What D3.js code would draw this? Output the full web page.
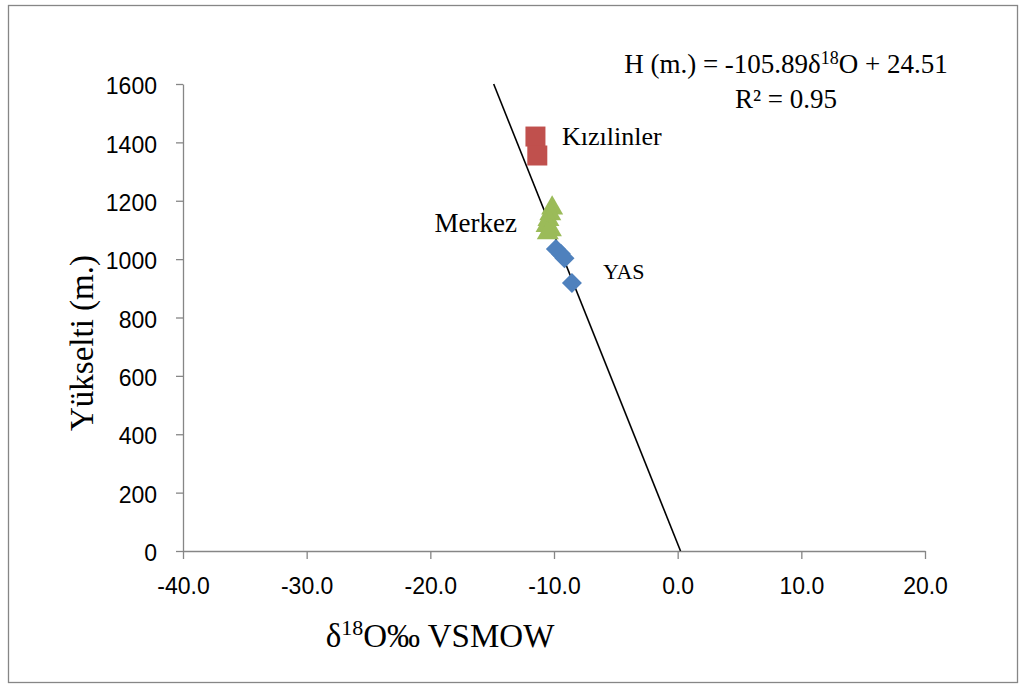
<!DOCTYPE html>
<html>
<head>
<meta charset="utf-8">
<script src="https://cdn.jsdelivr.net/npm/d3@7"></script>
<style>
  body { margin: 0; background: #fff; }
  .axis path, .axis line { stroke: #868686; stroke-width: 1.3px; }
  .axis text { font-family: "Liberation Sans", Arial, sans-serif; font-size: 23px; fill: #000; }
  .serif { font-family: "Liberation Serif", "Times New Roman", serif; fill: #000; }
</style>
</head>
<body>
<div id="chart"></div>
<script>
// values
const kizilinlerX = [-11.5, -11.35];
const kizilinlerY = [1420, 1355];
const merkezX = [-10.15, -10.3, -10.45, -10.6, -10.25, -10.5];
const merkezY = [1175, 1155, 1135, 1115, 1100, 1090];
const yasX = [-9.85, -9.45, -9.15, -8.55];
const yasY = [1035, 1018, 1003, 918];

const xTicks = [-40, -30, -20, -10, 0, 10, 20];
const yTicks = [0, 200, 400, 600, 800, 1000, 1200, 1400, 1600];

// trendline H = slope * d18O + intercept
const slope = -105.89, intercept = 24.51;

const W = 1025, H = 688;
const margin = {top: 84, right: 100, bottom: 137, left: 183};
const width = 925 - margin.left,
      height = 551 - margin.top;

const x = d3.scaleLinear().domain([-40, 20]).range([0, width]);
const y = d3.scaleLinear().domain([0, 1600]).range([height, 0]);

const svg = d3.select("#chart").append("svg")
    .attr("width", W)
    .attr("height", H);

svg.append("rect")
    .attr("x", 8.5).attr("y", 5.5)
    .attr("width", 1009).attr("height", 677)
    .attr("fill", "#fff").attr("stroke", "#868686").attr("stroke-width", 1.3);

const g = svg.append("g")
    .attr("transform", "translate(" + margin.left + "," + margin.top + ")");

g.append("g")
    .attr("class", "axis")
    .attr("transform", "translate(0," + height + ")")
    .call(d3.axisBottom(x).tickValues(xTicks).tickSize(8).tickSizeOuter(0).tickPadding(19)
      .tickFormat(d => d3.format(".1f")(d).replace("−", "-")));

g.append("g")
    .attr("class", "axis")
    .call(d3.axisLeft(y).tickValues(yTicks).tickSize(7).tickSizeOuter(0).tickPadding(19)
      .tickFormat(d3.format("d")))
    .call(a => a.selectAll("text").attr("dy", "0.42em"));

// trendline from H = 1600 down to H = 0
const line = d3.line().x(d => x(d[0])).y(d => y(d[1]));
const x0 = (1600 - intercept) / slope, x1 = (0 - intercept) / slope;
g.append("path")
    .attr("d", line([[x0, slope * x0 + intercept], [x1, slope * x1 + intercept]]))
    .attr("fill", "none").attr("stroke", "#000").attr("stroke-width", 1.6);

function markers(xs, ys, type, size, color, rotate) {
  g.append("g").selectAll("path")
    .data(xs.map((v, i) => [v, ys[i]]))
    .join("path")
    .attr("transform", d => "translate(" + x(d[0]) + "," + y(d[1]) + ")" + (rotate ? " rotate(45)" : ""))
    .attr("d", d3.symbol().type(type).size(size))
    .attr("fill", color);
}

markers(yasX, yasY, d3.symbolSquare, 200, "#4F81BD", true);
markers(merkezX, merkezY, d3.symbolTriangle, 210, "#9BBB59", false);
markers(kizilinlerX, kizilinlerY, d3.symbolSquare, 400, "#C0504D", false);

// group labels
svg.append("text").attr("class", "serif").attr("x", 562).attr("y", 145)
    .style("font-size", "26px").text("Kızılinler");
svg.append("text").attr("class", "serif").attr("x", 517).attr("y", 232)
    .attr("text-anchor", "end").style("font-size", "27px").text("Merkez");
svg.append("text").attr("class", "serif").attr("x", 603).attr("y", 279)
    .style("font-size", "22px").text("YAS");

// equation
const eq = svg.append("text").attr("class", "serif").attr("x", 786).attr("y", 73)
    .attr("text-anchor", "middle").style("font-size", "27px");
eq.append("tspan").text("H (m.) = -105.89δ");
eq.append("tspan").attr("dy", -9).style("font-size", "18px").text("18");
eq.append("tspan").attr("dy", 9).text("O + 24.51");
svg.append("text").attr("class", "serif").attr("x", 786).attr("y", 108)
    .attr("text-anchor", "middle").style("font-size", "27px").text("R² = 0.95");

// axis titles
const xt = svg.append("text").attr("class", "serif").attr("x", 440).attr("y", 647)
    .attr("text-anchor", "middle").style("font-size", "33px");
xt.append("tspan").text("δ");
xt.append("tspan").attr("dy", -12).style("font-size", "22px").text("18");
xt.append("tspan").attr("dy", 12).text("O‰ VSMOW");

svg.append("text").attr("class", "serif")
    .attr("transform", "translate(93,343) rotate(-90)")
    .attr("text-anchor", "middle").style("font-size", "33px").text("Yükselti (m.)");
</script>
</body>
</html>
